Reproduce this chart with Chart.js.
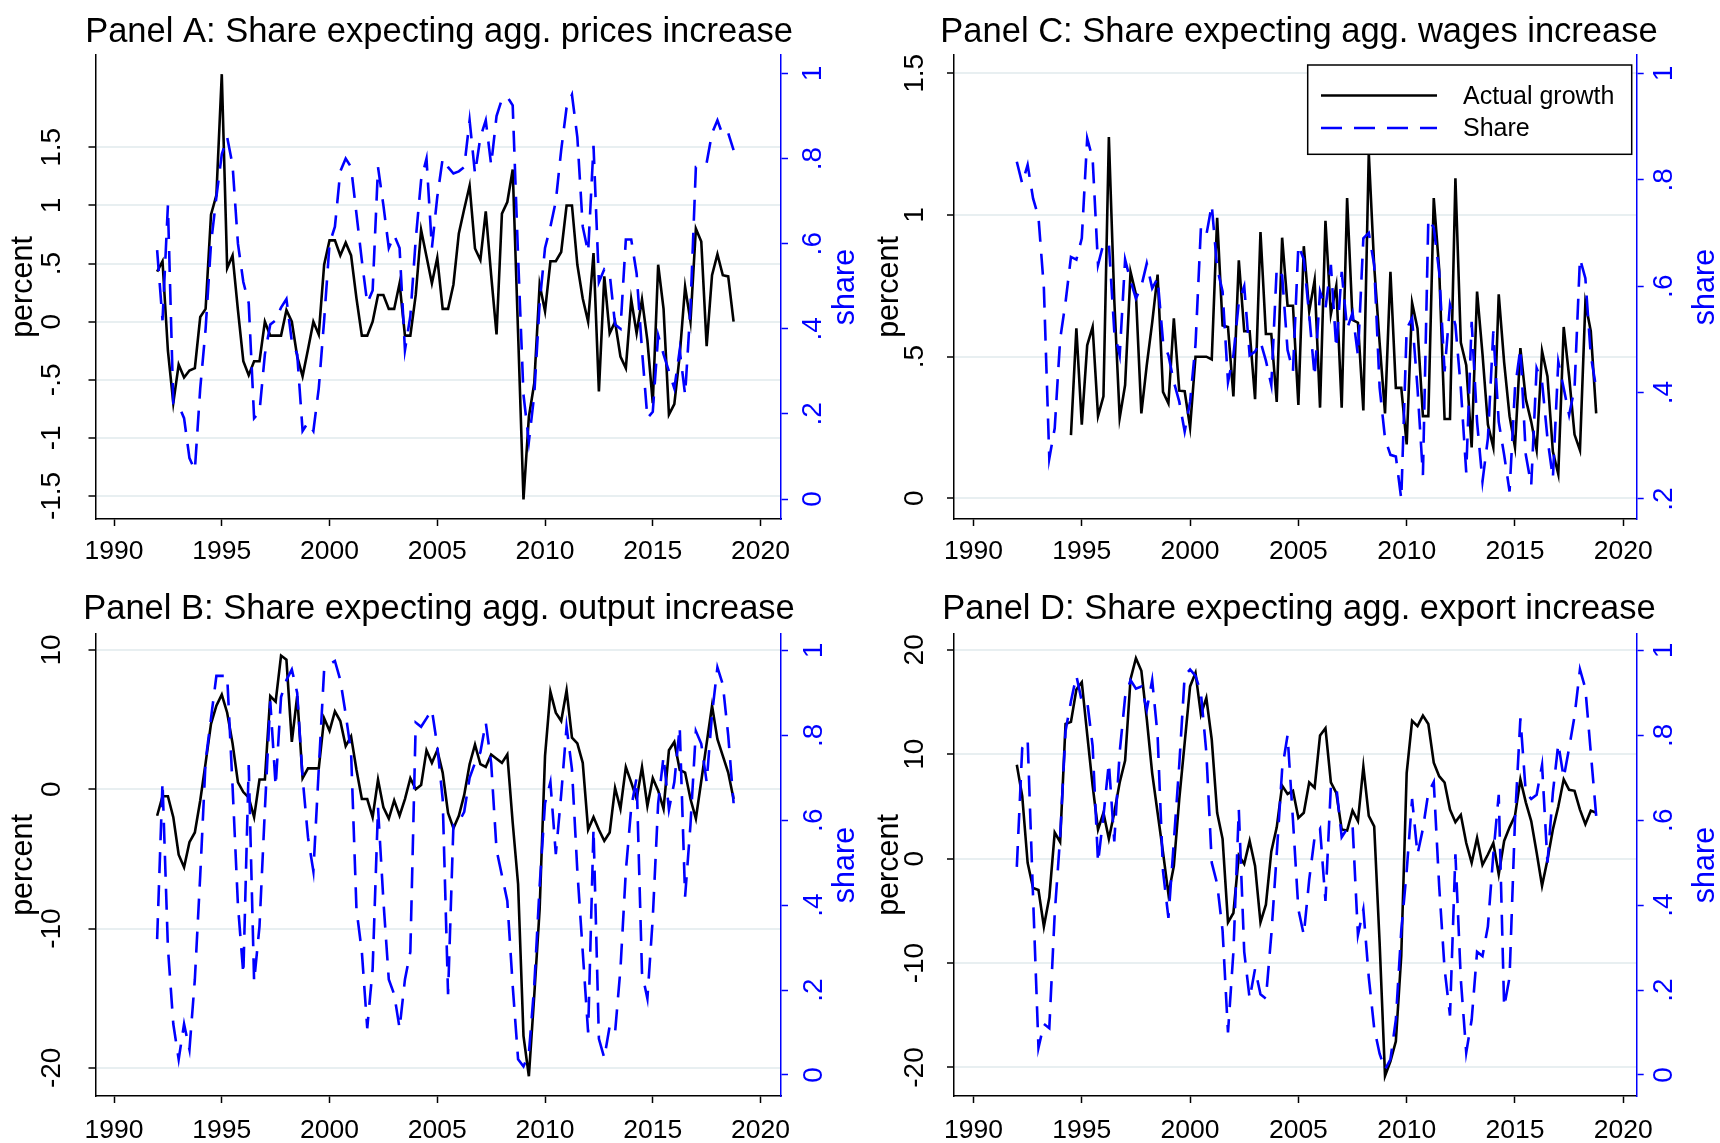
<!DOCTYPE html>
<html>
<head>
<meta charset="utf-8">
<script src="https://cdn.jsdelivr.net/npm/chart.js@4.4.1/dist/chart.umd.min.js"></script>
<style>
  html, body { margin: 0; padding: 0; background: #fff; overflow: hidden; }
  body { width: 1720px; height: 1143px; position: relative; }
  canvas { position: absolute; }
</style>
</head>
<body>
<canvas id="chartA" width="878" height="577" style="left:0;top:0"></canvas>
<canvas id="chartC" width="878" height="577" style="left:860px;top:0"></canvas>
<canvas id="chartB" width="878" height="566" style="left:0;top:577px"></canvas>
<canvas id="chartD" width="878" height="566" style="left:860px;top:577px"></canvas>
<script>
// quarterly observations, 1992q1 .. 2018q4
const firstYear = 1992;
const nQuarters = 108;
const quarterX = Array.from({ length: nQuarters }, (_, i) => firstYear + i / 4);
const yearTicks = [1990, 1995, 2000, 2005, 2010, 2015, 2020];

// Panel A: prices
const pricesActual = [0.43, 0.52, -0.25, -0.70, -0.37, -0.48, -0.42, -0.40, 0.04, 0.11,
  0.92, 1.09, 2.13, 0.46, 0.57, 0.10, -0.34, -0.46, -0.34, -0.34,
  0.00, -0.12, -0.12, -0.12, 0.10, 0.00, -0.30, -0.47, -0.24, 0.00,
  -0.11, 0.49, 0.70, 0.70, 0.57, 0.68, 0.57, 0.20, -0.12, -0.12,
  0.00, 0.23, 0.23, 0.11, 0.11, 0.33, -0.12, -0.12, 0.23, 0.79,
  0.56, 0.33, 0.55, 0.11, 0.11, 0.32, 0.76, 0.97, 1.17, 0.63,
  0.53, 0.95, 0.40, -0.11, 0.93, 1.03, 1.31, -0.10, -1.53, -0.82,
  -0.53, 0.32, 0.09, 0.52, 0.52, 0.60, 1.00, 1.00, 0.49, 0.20,
  0.00, 0.59, -0.60, 0.39, -0.10, 0.00, -0.30, -0.40, 0.19, -0.10,
  0.19, -0.16, -0.70, 0.49, 0.11, -0.80, -0.71, -0.29, 0.30, 0.00,
  0.80, 0.69, -0.21, 0.40, 0.58, 0.40, 0.39, 0.00];
const pricesShare = [0.585, 0.42, 0.69, 0.225, 0.22, 0.19, 0.096, 0.068, 0.26, 0.40,
  0.60, 0.71, 0.81, 0.85, 0.785, 0.60, 0.51, 0.46, 0.19, 0.205,
  0.34, 0.41, 0.42, 0.45, 0.47, 0.37, 0.34, 0.16, 0.18, 0.16,
  0.26, 0.42, 0.60, 0.64, 0.77, 0.80, 0.78, 0.67, 0.56, 0.46,
  0.49, 0.78, 0.69, 0.59, 0.62, 0.59, 0.35, 0.43, 0.61, 0.75,
  0.80, 0.59, 0.71, 0.80, 0.78, 0.765, 0.77, 0.78, 0.89, 0.765,
  0.85, 0.89, 0.785, 0.90, 0.94, 0.945, 0.925, 0.57, 0.245, 0.135,
  0.245, 0.46, 0.59, 0.64, 0.70, 0.82, 0.92, 0.95, 0.85, 0.64,
  0.58, 0.83, 0.51, 0.54, 0.53, 0.41, 0.40, 0.61, 0.61, 0.53,
  0.35, 0.19, 0.205, 0.385, 0.34, 0.30, 0.26, 0.35, 0.245, 0.45,
  0.78, 0.78, 0.79, 0.86, 0.89, 0.855, 0.86, 0.82];

// Panel B: output
const outputActual = [-1.9, -0.5, -0.5, -2.0, -4.7, -5.6, -3.8, -3.1, -0.8, 1.9,
  4.7, 6.0, 6.8, 5.5, 3.3, 0.5, -0.2, -0.6, -2.0, 0.7,
  0.7, 6.7, 6.3, 9.6, 9.3, 3.4, 6.7, 0.8, 1.5, 1.5,
  1.5, 5.1, 4.2, 5.6, 4.9, 3.1, 3.8, 1.4, -0.7, -0.7,
  -2.0, 0.7, -1.3, -2.1, -0.8, -1.9, -0.7, 0.8, 0.0, 0.3,
  2.8, 1.9, 2.8, 1.2, -1.7, -2.8, -1.9, -0.4, 1.8, 3.2,
  1.8, 1.6, 2.5, 2.2, 1.9, 2.5, -2.4, -6.8, -17.7, -20.6,
  -14.8, -8.6, 2.4, 7.0, 5.5, 4.9, 7.1, 3.7, 3.3, 1.9,
  -2.9, -2.0, -2.9, -3.7, -3.1, 0.1, -1.4, 1.6, 0.5, -0.7,
  1.6, -1.2, 0.8, -0.1, -1.4, 2.8, 3.4, 1.4, 1.2, -0.7,
  -2.1, 0.6, 3.3, 6.0, 3.6, 2.4, 1.2, -0.7];
const outputShare = [0.32, 0.69, 0.30, 0.12, 0.037, 0.12, 0.06, 0.225, 0.47, 0.74,
  0.84, 0.94, 0.94, 0.94, 0.68, 0.40, 0.237, 0.73, 0.22, 0.35,
  0.625, 0.88, 0.68, 0.89, 0.93, 0.955, 0.90, 0.70, 0.56, 0.48,
  0.72, 0.955, 0.967, 0.975, 0.93, 0.85, 0.76, 0.39, 0.29, 0.11,
  0.25, 0.63, 0.41, 0.225, 0.19, 0.11, 0.225, 0.29, 0.83, 0.82,
  0.84, 0.86, 0.775, 0.65, 0.19, 0.59, 0.595, 0.62, 0.70, 0.735,
  0.76, 0.83, 0.735, 0.53, 0.47, 0.41, 0.21, 0.037, 0.02, 0.05,
  0.21, 0.445, 0.64, 0.69, 0.52, 0.66, 0.82, 0.72, 0.48, 0.29,
  0.10, 0.58, 0.085, 0.04, 0.115, 0.10, 0.25, 0.48, 0.63, 0.70,
  0.24, 0.18, 0.37, 0.64, 0.75, 0.625, 0.69, 0.82, 0.42, 0.59,
  0.81, 0.78, 0.69, 0.85, 0.96, 0.92, 0.80, 0.64];

// Panel C: wages (actual series starts 1994q3)
const wagesActual = [null, null, null, null, null, null, null, null, null, null,
  0.223, 0.60, 0.26, 0.54, 0.605, 0.29, 0.36, 1.275, 0.70, 0.284,
  0.40, 0.80, 0.72, 0.30, 0.47, 0.62, 0.79, 0.376, 0.335, 0.635,
  0.38, 0.378, 0.25, 0.50, 0.50, 0.50, 0.49, 0.99, 0.61, 0.605,
  0.36, 0.84, 0.59, 0.59, 0.35, 0.94, 0.58, 0.58, 0.34, 0.92,
  0.68, 0.68, 0.33, 0.89, 0.66, 0.77, 0.32, 0.98, 0.65, 0.75,
  0.32, 1.06, 0.63, 0.62, 0.31, 1.22, 0.82, 0.55, 0.30, 0.80,
  0.39, 0.39, 0.19, 0.69, 0.60, 0.29, 0.29, 1.06, 0.81, 0.28,
  0.28, 1.13, 0.55, 0.47, 0.18, 0.73, 0.51, 0.26, 0.18, 0.72,
  0.48, 0.29, 0.18, 0.53, 0.35, 0.27, 0.17, 0.52, 0.43, 0.165,
  0.085, 0.605, 0.43, 0.225, 0.17, 0.69, 0.59, 0.30];
const wagesShare = [0.834, 0.793, 0.828, 0.765, 0.73, 0.596, 0.276, 0.333, 0.50, 0.57,
  0.655, 0.65, 0.69, 0.878, 0.84, 0.64, 0.68, 0.68, 0.515, 0.47,
  0.65, 0.61, 0.577, 0.60, 0.643, 0.596, 0.615, 0.496, 0.47, 0.42,
  0.383, 0.327, 0.383, 0.49, 0.71, 0.696, 0.753, 0.634, 0.59, 0.42,
  0.47, 0.57, 0.60, 0.47, 0.477, 0.496, 0.46, 0.414, 0.634, 0.62,
  0.48, 0.44, 0.677, 0.65, 0.546, 0.43, 0.59, 0.558, 0.64, 0.483,
  0.627, 0.52, 0.55, 0.47, 0.69, 0.70, 0.64, 0.41, 0.314, 0.283,
  0.28, 0.20, 0.52, 0.54, 0.408, 0.245, 0.727, 0.71, 0.627, 0.44,
  0.565, 0.527, 0.408, 0.25, 0.533, 0.345, 0.233, 0.314, 0.515, 0.345,
  0.283, 0.214, 0.408, 0.483, 0.283, 0.226, 0.446, 0.42, 0.314, 0.239,
  0.458, 0.408, 0.358, 0.408, 0.652, 0.615, 0.47, 0.408];

// Panel D: export
const exportActual = [9.0, 6.0, -0.4, -2.8, -3.0, -6.5, -3.7, 2.5, 1.6, 12.9,
  13.1, 16.2, 16.9, 11.9, 7.0, 2.8, 4.4, 1.9, 4.4, 7.3,
  9.4, 17.2, 19.2, 18.0, 13.4, 8.2, 4.4, 0.6, -3.4, -0.7,
  5.7, 11.1, 16.5, 17.8, 13.8, 15.4, 11.4, 4.4, 1.9, -6.1,
  -5.2, 0.3, -0.5, 1.7, -0.7, -6.1, -4.4, 0.7, 3.0, 7.0,
  6.2, 6.5, 3.9, 4.4, 7.3, 6.8, 11.8, 12.5, 7.3, 6.3,
  2.8, 2.7, 4.6, 3.6, 8.8, 4.1, 3.1, -8.0, -20.8, -19.4,
  -17.5, -9.3, 8.2, 13.2, 12.7, 13.7, 12.9, 9.2, 7.9, 7.3,
  4.7, 3.5, 4.2, 1.5, -0.4, 2.0, -0.6, 0.4, 1.5, -1.5,
  1.7, 3.0, 4.1, 7.6, 5.4, 3.6, 0.6, -2.6, -0.1, 2.8,
  5.0, 7.6, 6.6, 6.5, 4.7, 3.3, 4.6, 4.4];
const exportShare = [0.49, 0.77, 0.79, 0.42, 0.064, 0.12, 0.11, 0.38, 0.56, 0.81,
  0.88, 0.94, 0.88, 0.88, 0.775, 0.50, 0.61, 0.735, 0.55, 0.76,
  0.89, 0.93, 0.91, 0.915, 0.86, 0.93, 0.80, 0.48, 0.37, 0.55,
  0.73, 0.94, 0.955, 0.94, 0.90, 0.76, 0.50, 0.45, 0.34, 0.10,
  0.29, 0.625, 0.29, 0.18, 0.25, 0.19, 0.18, 0.33, 0.52, 0.72,
  0.80, 0.60, 0.39, 0.33, 0.46, 0.56, 0.58, 0.41, 0.68, 0.68,
  0.56, 0.58, 0.59, 0.33, 0.39, 0.23, 0.11, 0.05, 0.013, 0.037,
  0.13, 0.34, 0.48, 0.65, 0.52, 0.58, 0.665, 0.69, 0.445, 0.25,
  0.14, 0.52, 0.225, 0.053, 0.13, 0.29, 0.28, 0.35, 0.52, 0.66,
  0.16, 0.23, 0.60, 0.84, 0.665, 0.65, 0.66, 0.73, 0.50, 0.665,
  0.78, 0.70, 0.77, 0.845, 0.955, 0.91, 0.76, 0.61];

// axis tick values
const pricesTicks = [-1.5, -1, -0.5, 0, 0.5, 1, 1.5];
const wagesTicks = [0, 0.5, 1, 1.5];
const outputTicks = [-20, -10, 0, 10];
const exportTicks = [-20, -10, 0, 10, 20];
const shareTicks = [0, 0.2, 0.4, 0.6, 0.8, 1];
const wagesShareTicks = [0.2, 0.4, 0.6, 0.8, 1];

const FONT = '"Liberation Sans", Arial, Helvetica, sans-serif';
const BLUE = '#0000ff';
const GRID = '#e8eff1';

Chart.defaults.font.family = FONT;
Chart.defaults.color = '#000';

// Stata style numbers: .5 instead of 0.5
function stataNum(v) {
  const s = String(+v.toFixed(2));
  return s.replace(/^(-?)0\./, '$1.');
}

// vertical tick labels and axis titles, placed on the library's scales
const stataAxes = {
  id: 'stataAxes',
  afterDraw(chart, args, o) {
    const ctx = chart.ctx;
    const area = chart.chartArea;
    const midY = (area.top + area.bottom) / 2;
    const sides = [
      { id: 'y', labelX: o.leftLabelX, titleX: o.leftTitleX, title: 'percent', color: '#000' },
      { id: 'y2', labelX: o.rightLabelX, titleX: o.rightTitleX, title: 'share', color: BLUE }
    ];
    ctx.save();
    ctx.textAlign = 'center';
    ctx.textBaseline = 'middle';
    sides.forEach(side => {
      const scale = chart.scales[side.id];
      ctx.fillStyle = side.color;
      ctx.font = o.tickSize + 'px ' + FONT;
      scale.ticks.forEach(t => {
        const py = scale.getPixelForValue(t.value);
        ctx.save();
        ctx.translate(side.labelX, py);
        ctx.rotate(-Math.PI / 2);
        ctx.fillText(stataNum(t.value), 0, 0);
        ctx.restore();
      });
      ctx.font = o.titleSize + 'px ' + FONT;
      ctx.save();
      ctx.translate(side.titleX, midY);
      ctx.rotate(-Math.PI / 2);
      ctx.fillText(side.title, 0, 0);
      ctx.restore();
    });
    ctx.restore();
  }
};

// boxed legend inside the plot (panel C only)
const boxLegend = {
  id: 'boxLegend',
  afterDraw(chart, args, o) {
    if (!o.show) return;
    const ctx = chart.ctx;
    ctx.save();
    ctx.fillStyle = '#fff';
    ctx.fillRect(o.x, o.y, o.w, o.h);
    ctx.strokeStyle = '#000';
    ctx.lineWidth = 1.5;
    ctx.strokeRect(o.x, o.y, o.w, o.h);
    ctx.font = o.fontSize + 'px ' + FONT;
    ctx.textAlign = 'left';
    ctx.textBaseline = 'middle';
    chart.data.datasets.forEach((ds, k) => {
      const rowY = o.rows[k];
      ctx.strokeStyle = ds.borderColor;
      ctx.lineWidth = ds.borderWidth;
      ctx.setLineDash(ds.borderDash || []);
      ctx.beginPath();
      ctx.moveTo(o.lineX0, rowY);
      ctx.lineTo(o.lineX1, rowY);
      ctx.stroke();
      ctx.setLineDash([]);
      ctx.fillStyle = '#000';
      ctx.fillText(ds.label, o.textX, rowY + 1.5);
    });
    ctx.restore();
  }
};

Chart.register(stataAxes, boxLegend);

// canvases are 878 wide so that the full-width title is centred like the reference
const panels = [
  { canvas: 'chartA', title: 'Panel A: Share expecting agg. prices increase',
    actual: pricesActual, share: pricesShare, leftTicks: pricesTicks, rightTicks: shareTicks,
    xMin: 1989.14, xMax: 2020.95, yMin: -1.698, yMax: 2.295, y2Min: -0.047, y2Max: 1.0435,
    leftWidth: 95.5, rightWidth: 97, padTop: 11.9, padBottom: 1.7, xHeight: 58, xPad: 9.5,
    labels: { leftLabelX: 52.5, leftTitleX: 24, rightLabelX: 813, rightTitleX: 846 }, legend: false },
  { canvas: 'chartC', title: 'Panel C: Share expecting agg. wages increase',
    actual: wagesActual, share: wagesShare, leftTicks: wagesTicks, rightTicks: wagesShareTicks,
    xMin: 1989.10, xMax: 2020.62, yMin: -0.073, yMax: 1.565, y2Min: 0.1624, y2Max: 1.0346,
    leftWidth: 94, rightWidth: 101.3, padTop: 11.9, padBottom: 1.7, xHeight: 58, xPad: 9.5,
    labels: { leftLabelX: 55.5, leftTitleX: 30, rightLabelX: 804, rightTitleX: 845.5 }, legend: true },
  { canvas: 'chartB', title: 'Panel B: Share expecting agg. output increase',
    actual: outputActual, share: outputShare, leftTicks: outputTicks, rightTicks: shareTicks,
    xMin: 1989.14, xMax: 2020.95, yMin: -22.02, yMax: 11.15, y2Min: -0.0495, y2Max: 1.0386,
    leftWidth: 95.5, rightWidth: 97, padTop: 11.4, padBottom: 4.2, xHeight: 47, xPad: 11.5,
    labels: { leftLabelX: 52.5, leftTitleX: 24, rightLabelX: 814, rightTitleX: 846 }, legend: false },
  { canvas: 'chartD', title: 'Panel D: Share expecting agg. export increase',
    actual: exportActual, share: exportShare, leftTicks: exportTicks, rightTicks: shareTicks,
    xMin: 1989.10, xMax: 2020.62, yMin: -22.73, yMax: 21.52, y2Min: -0.0495, y2Max: 1.0386,
    leftWidth: 94, rightWidth: 101.3, padTop: 11.4, padBottom: 4.2, xHeight: 47, xPad: 11.5,
    labels: { leftLabelX: 55.5, leftTitleX: 30, rightLabelX: 804, rightTitleX: 845.5 }, legend: false }
];

function toPoints(values) {
  return values.map((v, i) => ({ x: quarterX[i], y: v }));
}

function setTicks(list) {
  return scale => { scale.ticks = list.map(v => ({ value: v })); };
}

panels.forEach(p => {
  new Chart(document.getElementById(p.canvas), {
    type: 'line',
    data: {
      datasets: [
        { label: 'Actual growth', data: toPoints(p.actual), yAxisID: 'y',
          borderColor: '#000', borderWidth: 2.6, pointRadius: 0, order: 2 },
        { label: 'Share', data: toPoints(p.share), yAxisID: 'y2',
          borderColor: BLUE, borderWidth: 2.6, borderDash: [21, 12], pointRadius: 0, order: 1 }
      ]
    },
    options: {
      responsive: false,
      animation: false,
      events: [],
      layout: { padding: 0 },
      plugins: {
        legend: { display: false },
        tooltip: { enabled: false },
        title: {
          display: true, text: p.title, color: '#000',
          font: { size: 34.5, weight: 'normal', family: FONT },
          padding: { top: p.padTop, bottom: p.padBottom }
        },
        stataAxes: Object.assign({ tickSize: 28, titleSize: 30.5 }, p.labels),
        boxLegend: { show: p.legend, x: 447.7, y: 65, w: 324, h: 89.3,
          lineX0: 461, lineX1: 577, textX: 603, rows: [95.5, 128], fontSize: 25 }
      },
      scales: {
        x: {
          type: 'linear', position: 'bottom', min: p.xMin, max: p.xMax,
          afterBuildTicks: setTicks(yearTicks),
          afterFit: s => { s.height = p.xHeight; },
          ticks: { font: { size: 26.5 }, color: '#000', padding: p.xPad, maxRotation: 0, autoSkip: false,
            callback: v => String(v) },
          grid: { drawOnChartArea: false, tickLength: 7, tickColor: '#000', tickWidth: 1.5 },
          border: { color: '#000', width: 1.5 }
        },
        y: {
          type: 'linear', position: 'left', min: p.yMin, max: p.yMax,
          afterBuildTicks: setTicks(p.leftTicks),
          afterFit: s => { s.width = p.leftWidth; },
          ticks: { display: false },
          grid: { color: GRID, lineWidth: 2, tickLength: 7, tickColor: '#000', tickWidth: 1.5 },
          border: { color: '#000', width: 1.5 }
        },
        y2: {
          type: 'linear', position: 'right', min: p.y2Min, max: p.y2Max,
          afterBuildTicks: setTicks(p.rightTicks),
          afterFit: s => { s.width = p.rightWidth; },
          ticks: { display: false },
          grid: { drawOnChartArea: false, tickLength: 7, tickColor: BLUE, tickWidth: 1.5 },
          border: { color: BLUE, width: 1.5 }
        }
      }
    }
  });
});
</script>
</body>
</html>
